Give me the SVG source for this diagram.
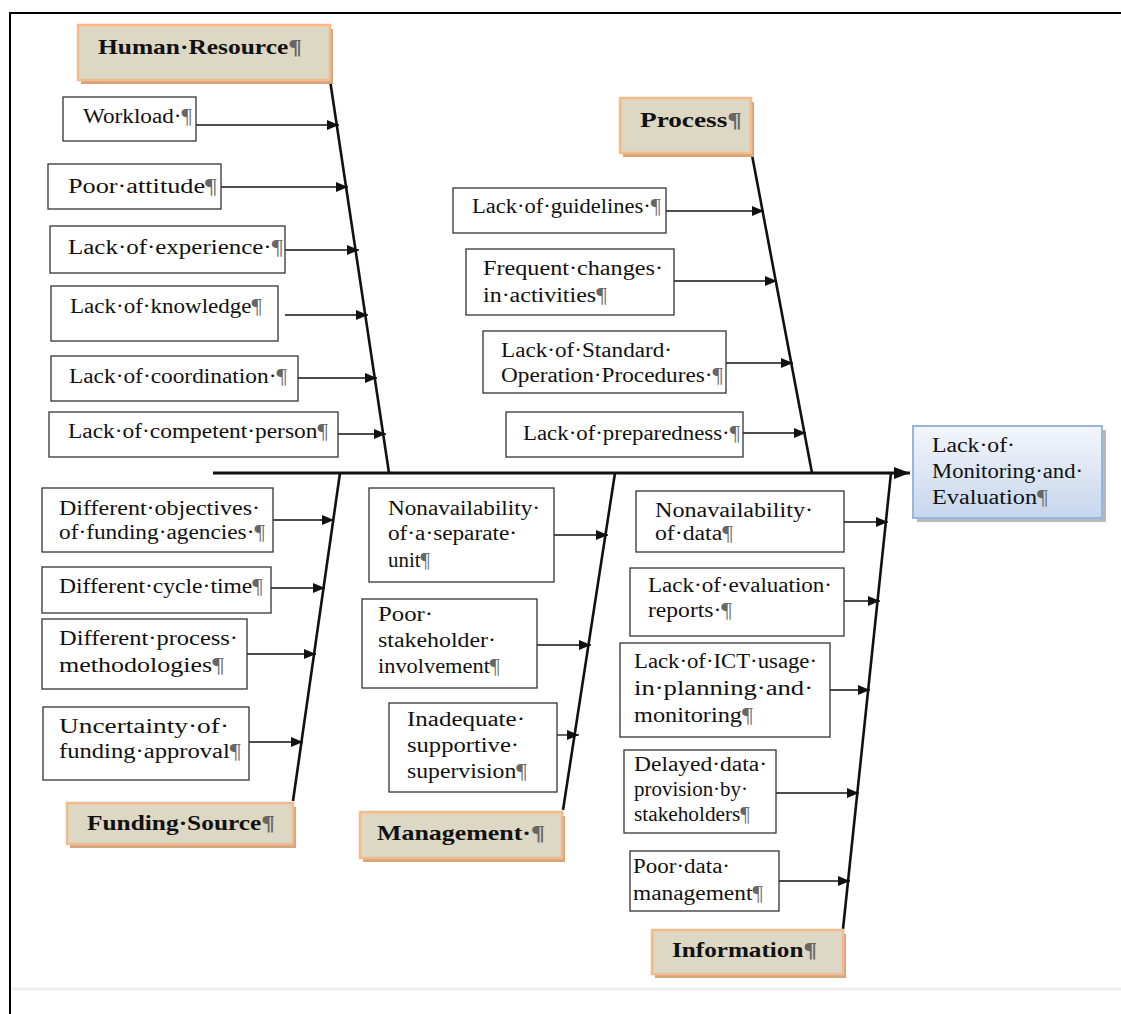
<svg xmlns="http://www.w3.org/2000/svg" width="1121" height="1014" viewBox="0 0 1121 1014">
<defs>
<style>
.box{fill:#fff;stroke:#333;stroke-width:1.3}
.cat{fill:#dcd8c3;stroke:#f6b98a;stroke-width:2.5}
.shd{fill:#d3a682}
.t{font-family:"Liberation Serif","Times New Roman",serif;font-size:20px;fill:#111}
.b{font-family:"Liberation Serif","Times New Roman",serif;font-size:21px;font-weight:bold;fill:#111}
.p{fill:#666}
.arr{stroke:#111;stroke-width:1.3;fill:none;marker-end:url(#ah)}
.sp{stroke:#111;stroke-width:2.6;fill:none}
</style>
<marker id="ah" markerWidth="12" markerHeight="10" refX="12" refY="5" orient="auto" markerUnits="userSpaceOnUse">
<path d="M0,0 L12,5 L0,10 Z" fill="#111"/>
</marker>
<marker id="ahb" markerWidth="16" markerHeight="12" refX="16" refY="6" orient="auto" markerUnits="userSpaceOnUse">
<path d="M0,0 L16,6 L0,12 Z" fill="#111"/>
</marker>
<linearGradient id="hg" x1="0" y1="0" x2="0" y2="1">
<stop offset="0" stop-color="#f3f6fb"/>
<stop offset="1" stop-color="#c6d6ec"/>
</linearGradient>
</defs>
<rect width="1121" height="1014" fill="#fff"/>
<path d="M10,1014 V13 H1121" stroke="#000" stroke-width="2" fill="none"/>
<path d="M12,989 H1121" stroke="#efefef" stroke-width="3"/>

<g id="connectors">
<path d="M213,473 H910" stroke="#111" stroke-width="3" marker-end="url(#ahb)"/>
<path class="sp" d="M330,80 L389,473"/>
<path class="sp" d="M752,155 L812,473"/>
<path class="sp" d="M293,801 L340,473"/>
<path class="sp" d="M563,810 L615,473"/>
<path class="sp" d="M843,929 L891,473"/>
<path class="arr" d="M196,125 H339"/>
<path class="arr" d="M221,187 H348"/>
<path class="arr" d="M285,250 H359"/>
<path class="arr" d="M285,315 H368"/>
<path class="arr" d="M298,378 H377"/>
<path class="arr" d="M338,434 H386"/>
<path class="arr" d="M666,211 H764"/>
<path class="arr" d="M674,281 H777"/>
<path class="arr" d="M726,363 H793"/>
<path class="arr" d="M743,433 H806"/>
<path class="arr" d="M273,520 H334"/>
<path class="arr" d="M271,588 H325"/>
<path class="arr" d="M247,654 H316"/>
<path class="arr" d="M249,742 H303"/>
<path class="arr" d="M554,535 H608"/>
<path class="arr" d="M537,645 H591"/>
<path class="arr" d="M557,735 H579"/>
<path class="arr" d="M844,522 H888"/>
<path class="arr" d="M844,601 H880"/>
<path class="arr" d="M830,690 H870"/>
<path class="arr" d="M776,793 H859"/>
<path class="arr" d="M779,881 H850"/>
</g>

<g id="head">
<rect x="917" y="430" width="189" height="92" fill="#b9b9b9"/>
<rect x="913" y="426" width="189" height="92" fill="url(#hg)" stroke="#98b5da" stroke-width="2"/>
<text class="t" x="932" y="452" textLength="83" lengthAdjust="spacingAndGlyphs">Lack·of·</text>
<text class="t" x="932" y="478" textLength="151" lengthAdjust="spacingAndGlyphs">Monitoring·and·</text>
<text class="t" x="932" y="504" textLength="116" lengthAdjust="spacingAndGlyphs">Evaluation<tspan class="p">¶</tspan></text>
</g>

<g id="cat-human">
<rect class="shd" x="81" y="29" width="252" height="55"/>
<rect class="cat" x="78" y="25" width="252" height="55"/>
<text class="b" x="98" y="54" textLength="204" lengthAdjust="spacingAndGlyphs">Human·Resource<tspan class="p">¶</tspan></text>
</g>
<g id="cat-process">
<rect class="shd" x="623" y="102" width="131" height="55"/>
<rect class="cat" x="620" y="98" width="131" height="55"/>
<text class="b" x="640" y="127" textLength="102" lengthAdjust="spacingAndGlyphs">Process<tspan class="p">¶</tspan></text>
</g>
<g id="cat-funding">
<rect class="shd" x="70" y="807" width="226" height="41"/>
<rect class="cat" x="67" y="803" width="226" height="41"/>
<text class="b" x="87" y="830" textLength="188" lengthAdjust="spacingAndGlyphs">Funding·Source<tspan class="p">¶</tspan></text>
</g>
<g id="cat-management">
<rect class="shd" x="363" y="816" width="202" height="46"/>
<rect class="cat" x="360" y="812" width="202" height="46"/>
<text class="b" x="377" y="840" textLength="168" lengthAdjust="spacingAndGlyphs">Management·<tspan class="p">¶</tspan></text>
</g>
<g id="cat-information">
<rect class="shd" x="655" y="934" width="191" height="44"/>
<rect class="cat" x="652" y="930" width="191" height="44"/>
<text class="b" x="672" y="957" textLength="145" lengthAdjust="spacingAndGlyphs">Information<tspan class="p">¶</tspan></text>
</g>

<g id="workload"><rect class="box" x="63" y="97" width="133" height="44"/><text class="t" x="83" y="123" textLength="109" lengthAdjust="spacingAndGlyphs">Workload·<tspan class="p">¶</tspan></text></g>
<g id="poor-attitude"><rect class="box" x="48" y="164" width="173" height="45"/><text class="t" x="68" y="193" textLength="149" lengthAdjust="spacingAndGlyphs">Poor·attitude<tspan class="p">¶</tspan></text></g>
<g id="experience"><rect class="box" x="50" y="226" width="235" height="47"/><text class="t" x="68" y="254" textLength="215" lengthAdjust="spacingAndGlyphs">Lack·of·experience·<tspan class="p">¶</tspan></text></g>
<g id="knowledge"><rect class="box" x="51" y="286" width="227" height="55"/><text class="t" x="70" y="313" textLength="192" lengthAdjust="spacingAndGlyphs">Lack·of·knowledge<tspan class="p">¶</tspan></text></g>
<g id="coordination"><rect class="box" x="51" y="356" width="247" height="45"/><text class="t" x="69" y="383" textLength="218" lengthAdjust="spacingAndGlyphs">Lack·of·coordination·<tspan class="p">¶</tspan></text></g>
<g id="competent"><rect class="box" x="49" y="412" width="289" height="45"/><text class="t" x="68" y="438" textLength="260" lengthAdjust="spacingAndGlyphs">Lack·of·competent·person<tspan class="p">¶</tspan></text></g>

<g id="guidelines"><rect class="box" x="453" y="188" width="213" height="45"/><text class="t" x="472" y="213" textLength="189" lengthAdjust="spacingAndGlyphs">Lack·of·guidelines·<tspan class="p">¶</tspan></text></g>
<g id="frequent"><rect class="box" x="466" y="249" width="208" height="66"/><text class="t" x="483" y="275" textLength="180" lengthAdjust="spacingAndGlyphs">Frequent·changes·</text><text class="t" x="483" y="302" textLength="124" lengthAdjust="spacingAndGlyphs">in·activities<tspan class="p">¶</tspan></text></g>
<g id="sop"><rect class="box" x="483" y="331" width="243" height="62"/><text class="t" x="501" y="357" textLength="171" lengthAdjust="spacingAndGlyphs">Lack·of·Standard·</text><text class="t" x="501" y="382" textLength="222" lengthAdjust="spacingAndGlyphs">Operation·Procedures·<tspan class="p">¶</tspan></text></g>
<g id="preparedness"><rect class="box" x="506" y="412" width="237" height="45"/><text class="t" x="523" y="440" textLength="217" lengthAdjust="spacingAndGlyphs">Lack·of·preparedness·<tspan class="p">¶</tspan></text></g>

<g id="objectives"><rect class="box" x="42" y="488" width="231" height="64"/><text class="t" x="59" y="515" textLength="201" lengthAdjust="spacingAndGlyphs">Different·objectives·</text><text class="t" x="59" y="539" textLength="206" lengthAdjust="spacingAndGlyphs">of·funding·agencies·<tspan class="p">¶</tspan></text></g>
<g id="cycle"><rect class="box" x="42" y="567" width="229" height="46"/><text class="t" x="59" y="593" textLength="204" lengthAdjust="spacingAndGlyphs">Different·cycle·time<tspan class="p">¶</tspan></text></g>
<g id="methodologies"><rect class="box" x="42" y="619" width="205" height="70"/><text class="t" x="59" y="645" textLength="179" lengthAdjust="spacingAndGlyphs">Different·process·</text><text class="t" x="59" y="672" textLength="165" lengthAdjust="spacingAndGlyphs">methodologies<tspan class="p">¶</tspan></text></g>
<g id="uncertainty"><rect class="box" x="43" y="707" width="206" height="73"/><text class="t" x="59" y="733" textLength="170" lengthAdjust="spacingAndGlyphs">Uncertainty·of·</text><text class="t" x="59" y="758" textLength="182" lengthAdjust="spacingAndGlyphs">funding·approval<tspan class="p">¶</tspan></text></g>

<g id="separate-unit"><rect class="box" x="369" y="488" width="185" height="94"/><text class="t" x="388" y="515" textLength="152" lengthAdjust="spacingAndGlyphs">Nonavailability·</text><text class="t" x="388" y="540" textLength="129" lengthAdjust="spacingAndGlyphs">of·a·separate·</text><text class="t" x="388" y="567" textLength="42" lengthAdjust="spacingAndGlyphs">unit<tspan class="p">¶</tspan></text></g>
<g id="stakeholder"><rect class="box" x="362" y="599" width="175" height="89"/><text class="t" x="378" y="621" textLength="55" lengthAdjust="spacingAndGlyphs">Poor·</text><text class="t" x="378" y="647" textLength="118" lengthAdjust="spacingAndGlyphs">stakeholder·</text><text class="t" x="378" y="673" textLength="122" lengthAdjust="spacingAndGlyphs">involvement<tspan class="p">¶</tspan></text></g>
<g id="supervision"><rect class="box" x="389" y="703" width="168" height="89"/><text class="t" x="407" y="726" textLength="118" lengthAdjust="spacingAndGlyphs">Inadequate·</text><text class="t" x="407" y="752" textLength="112" lengthAdjust="spacingAndGlyphs">supportive·</text><text class="t" x="407" y="778" textLength="120" lengthAdjust="spacingAndGlyphs">supervision<tspan class="p">¶</tspan></text></g>

<g id="data"><rect class="box" x="636" y="491" width="208" height="61"/><text class="t" x="655" y="517" textLength="158" lengthAdjust="spacingAndGlyphs">Nonavailability·</text><text class="t" x="655" y="540" textLength="78" lengthAdjust="spacingAndGlyphs">of·data<tspan class="p">¶</tspan></text></g>
<g id="evaluation"><rect class="box" x="630" y="568" width="214" height="68"/><text class="t" x="648" y="592" textLength="184" lengthAdjust="spacingAndGlyphs">Lack·of·evaluation·</text><text class="t" x="648" y="617" textLength="84" lengthAdjust="spacingAndGlyphs">reports·<tspan class="p">¶</tspan></text></g>
<g id="ict"><rect class="box" x="620" y="643" width="210" height="94"/><text class="t" x="634" y="668" textLength="183" lengthAdjust="spacingAndGlyphs">Lack·of·ICT·usage·</text><text class="t" x="634" y="695" textLength="179" lengthAdjust="spacingAndGlyphs">in·planning·and·</text><text class="t" x="634" y="722" textLength="119" lengthAdjust="spacingAndGlyphs">monitoring<tspan class="p">¶</tspan></text></g>
<g id="delayed"><rect class="box" x="624" y="750" width="152" height="83"/><text class="t" x="634" y="771" textLength="133" lengthAdjust="spacingAndGlyphs">Delayed·data·</text><text class="t" x="634" y="796" textLength="114" lengthAdjust="spacingAndGlyphs">provision·by·</text><text class="t" x="634" y="821" textLength="116" lengthAdjust="spacingAndGlyphs">stakeholders<tspan class="p">¶</tspan></text></g>
<g id="data-management"><rect class="box" x="630" y="851" width="149" height="60"/><text class="t" x="633" y="873" textLength="97" lengthAdjust="spacingAndGlyphs">Poor·data·</text><text class="t" x="633" y="900" textLength="130" lengthAdjust="spacingAndGlyphs">management<tspan class="p">¶</tspan></text></g>
</svg>
